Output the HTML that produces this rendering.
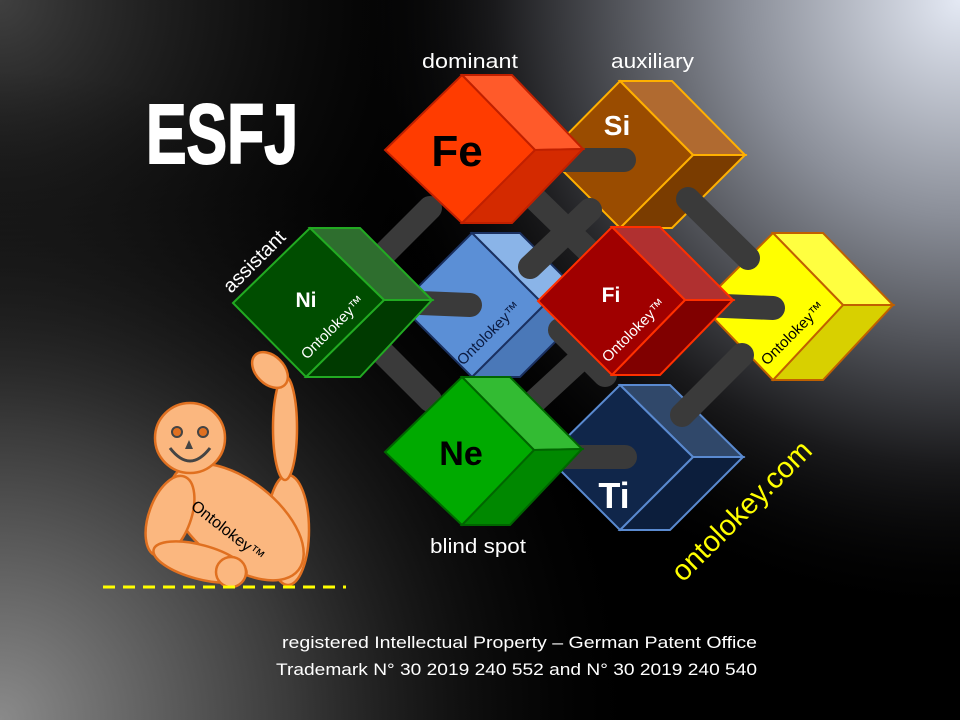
<!DOCTYPE html>
<html><head><meta charset="utf-8"><style>
html,body{margin:0;padding:0;width:960px;height:720px;overflow:hidden;background:#000}
svg{display:block}
text{font-family:"Liberation Sans","DejaVu Sans",sans-serif}
</style></head><body>
<svg width="960" height="720" viewBox="0 0 960 720" xmlns="http://www.w3.org/2000/svg">
<defs>
<radialGradient id="g1" cx="960" cy="0" r="620" gradientUnits="userSpaceOnUse">
<stop offset="0" stop-color="#e4e9f4"/><stop offset="0.35" stop-color="#8a8e98"/><stop offset="0.75" stop-color="#1a1a1c"/><stop offset="1" stop-color="#000" stop-opacity="0"/>
</radialGradient>
<radialGradient id="g2" cx="0" cy="720" r="650" gradientUnits="userSpaceOnUse">
<stop offset="0" stop-color="#8a8a8a"/><stop offset="0.45" stop-color="#3a3a3a"/><stop offset="1" stop-color="#000" stop-opacity="0"/>
</radialGradient>
<radialGradient id="g3" cx="0" cy="0" r="520" gradientUnits="userSpaceOnUse">
<stop offset="0" stop-color="#404040"/><stop offset="1" stop-color="#000" stop-opacity="0"/>
</radialGradient>
</defs>
<rect width="960" height="720" fill="#000"/>
<rect width="960" height="720" fill="url(#g3)"/>
<rect width="960" height="720" fill="url(#g2)"/>
<rect width="960" height="720" fill="url(#g1)"/>

<text x="146" y="163" font-size="84" font-weight="bold" fill="#fff" stroke="#fff" stroke-width="2" textLength="152" lengthAdjust="spacingAndGlyphs">ESFJ</text>
<text x="422" y="68" font-size="20" fill="#fff" textLength="96" lengthAdjust="spacingAndGlyphs">dominant</text>
<text x="611" y="68" font-size="20" fill="#fff" textLength="83" lengthAdjust="spacingAndGlyphs">auxiliary</text>
<text x="430" y="553" font-size="20" fill="#fff" textLength="96" lengthAdjust="spacingAndGlyphs">blind spot</text>
<text transform="translate(231,294) rotate(-45)" font-size="20" fill="#fff">assistant</text>

<g stroke-linejoin="miter" stroke-width="2">
<g stroke="#1a3060">
<polygon points="472,233 520,233 592,305 544,305" fill="#8ab4e8"/>
<polygon points="544,305 592,305 520,377 472,377" fill="#4a78b8"/>
<polygon points="400,305 472,233 544,305 472,377" fill="#5b8fd6"/>
</g>
<g stroke="#5a8ad0">
<polygon points="620,385 670,385 743,457 693,457" fill="#30486a"/>
<polygon points="693,457 743,457 670,530 620,530" fill="#0c1e3c"/>
<polygon points="547,457 620,385 693,457 620,530" fill="#10264a"/>
</g>
<g stroke="#ffb000">
<polygon points="620,81 672,81 745,155 693,155" fill="#b06a30"/>
<polygon points="693,155 745,155 672,228 620,228" fill="#7a3c00"/>
<polygon points="547,155 620,81 693,155 620,228" fill="#9a4c00"/>
</g>
<g stroke="#c06000">
<polygon points="773,233 823,233 893,305 843,305" fill="#ffff40"/>
<polygon points="843,305 893,305 823,380 773,380" fill="#d8d000"/>
<polygon points="701,305 773,233 843,305 773,380" fill="#ffff00"/>
</g>
</g>

<g stroke="#3a3a3a" stroke-width="24" stroke-linecap="round" fill="none">
<line x1="520" y1="160" x2="624" y2="160"/>
<line x1="524" y1="188" x2="600" y2="262"/>
<line x1="688" y1="199" x2="748" y2="258"/>
<line x1="530" y1="267" x2="590" y2="210"/>
<line x1="378" y1="260" x2="430" y2="208"/>
<line x1="372" y1="342" x2="430" y2="400"/>
<line x1="420" y1="303" x2="470" y2="305"/>
<line x1="700" y1="305" x2="773" y2="308"/>
<line x1="560" y1="457" x2="625" y2="457"/>
<line x1="523" y1="412" x2="588" y2="352"/>
<line x1="682" y1="415" x2="742" y2="355"/>
<line x1="560" y1="330" x2="605" y2="375"/>
</g>

<g stroke-width="2">
<g stroke="#c02000">
<polygon points="462,75 512,75 583,149 535,150" fill="#ff5a2a"/>
<polygon points="535,150 583,149 512,223 462,223" fill="#d42a00"/>
<polygon points="385,150 462,75 535,150 462,223" fill="#ff3c00"/>
</g>
<g stroke="#ff3000">
<polygon points="612,227 660,227 733,300 685,300" fill="#b03030"/>
<polygon points="685,300 733,300 660,375 612,375" fill="#800000"/>
<polygon points="538,301 612,227 685,300 612,375" fill="#a00000"/>
</g>
<g stroke="#006600">
<polygon points="462,377 510,377 582,449 534,450" fill="#33bb33"/>
<polygon points="534,450 582,449 510,525 462,525" fill="#008800"/>
<polygon points="385,452 462,377 534,450 462,525" fill="#00aa00"/>
</g>
<g stroke="#22aa22">
<polygon points="310,228 360,228 432,300 384,300" fill="#2e6e2e"/>
<polygon points="384,300 432,300 360,377 306,377" fill="#003a00"/>
<polygon points="233,303 310,228 384,300 306,377" fill="#004d00"/>
</g>
</g>

<g font-weight="bold" text-anchor="middle">
<text x="457" y="166" font-size="44" fill="#000">Fe</text>
<text x="617" y="135" font-size="28" fill="#fff">Si</text>
<text x="306" y="307" font-size="21" fill="#fff">Ni</text>
<text x="611" y="302" font-size="21" fill="#fff">Fi</text>
<text x="461" y="465" font-size="34" fill="#000">Ne</text>
<text x="614" y="508" font-size="36" fill="#fff">Ti</text>
</g>
<g font-size="15">
<text transform="translate(307,360) rotate(-45)" fill="#fff">Ontolokey™</text>
<text transform="translate(463,366) rotate(-45)" fill="#0a1a40">Ontolokey™</text>
<text transform="translate(608,363) rotate(-45)" fill="#fff">Ontolokey™</text>
<text transform="translate(767,366) rotate(-45)" fill="#000">Ontolokey™</text>
</g>

<text transform="translate(683,583) rotate(-45)" font-size="29" fill="#ffff00">ontolokey.com</text>

<g fill="#fbb77f" stroke="#e07020" stroke-width="2.5">
<ellipse cx="288" cy="530" rx="21" ry="55"/>
<ellipse cx="237" cy="522" rx="78" ry="42" transform="rotate(38 237 522)"/>
<ellipse cx="170" cy="516" rx="21" ry="42" transform="rotate(20 170 516)"/>
<ellipse cx="200" cy="562" rx="48" ry="17" transform="rotate(15 200 562)"/>
<circle cx="231" cy="572" r="15"/>
<ellipse cx="285" cy="428" rx="12" ry="52"/>
<ellipse cx="270" cy="370" rx="21" ry="14" transform="rotate(45 270 370)"/>
<circle cx="190" cy="438" r="35"/>
</g>
<g fill="#e07020" stroke="#444" stroke-width="2">
<circle cx="177" cy="432" r="5"/><circle cx="203" cy="432" r="5"/>
</g>
<polygon points="189,440 193,449 185,449" fill="#444"/>
<path d="M170,448 Q190,474 210,448" fill="none" stroke="#444" stroke-width="3"/>
<text transform="translate(190,508) rotate(38)" font-size="16" fill="#000">Ontolokey™</text>

<line x1="103" y1="587" x2="346" y2="587" stroke="#ffff00" stroke-width="3" stroke-dasharray="12,8"/>

<text x="282" y="648" font-size="17" fill="#fff" textLength="475" lengthAdjust="spacingAndGlyphs">registered Intellectual Property – German Patent Office</text>
<text x="276" y="675" font-size="17" fill="#fff" textLength="481" lengthAdjust="spacingAndGlyphs">Trademark N° 30 2019 240 552 and N° 30 2019 240 540</text>
</svg>
</body></html>
